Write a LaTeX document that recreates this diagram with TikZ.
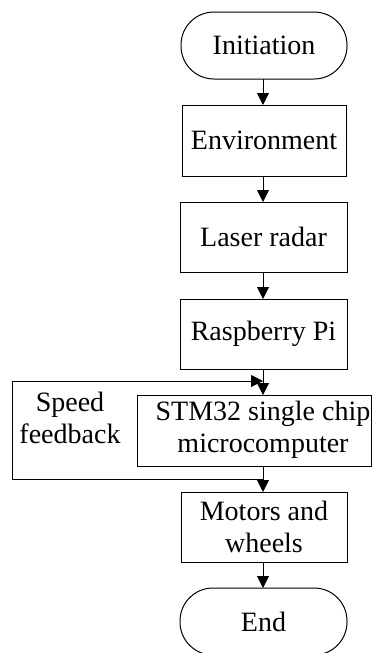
\documentclass[tikz,border=0pt]{standalone}
\usepackage{fontspec}
\setmainfont{Liberation Serif}
\usetikzlibrary{arrows.meta}
\begin{document}
\begin{tikzpicture}[x=1pt,y=-1pt,
  every node/.style={font=\fontsize{28}{32}\selectfont},
  box/.style={draw,line width=1pt,rectangle,inner sep=0pt,align=center},
  term/.style={draw,line width=1pt,rectangle,rounded corners=33pt,inner sep=0pt,minimum width=166pt,minimum height=67pt},
  conn/.style={line width=1pt,-{Triangle[length=12pt,width=12pt]}}]
\useasboundingbox (0,0) rectangle (389,653);
\node[term] (init) at (264,45.5) {Initiation};
\node[box,minimum width=164pt,minimum height=71pt] (env) at (264,140.5) {Environment};
\node[box,minimum width=167pt,minimum height=70pt] (laser) at (263.5,237) {Laser radar};
\node[box,minimum width=167pt,minimum height=70pt] (rpi) at (263.5,334) {Raspberry Pi};
\node[box,minimum width=234pt,minimum height=71pt] (stm) at (254,430.5) {};
\node[align=center] (stmtext) at (263,430) {STM32 single chip\\microcomputer};
\node[box,minimum width=166pt,minimum height=70pt] (motors) at (264,527) {Motors and\\wheels};
\node[term,minimum width=167pt] (end) at (263.5,621.5) {End};
\node[align=center] (speed) at (70,418) {Speed\\feedback};
\coordinate (a1) at (263,79);
\coordinate (a2) at (263,176);
\coordinate (a3) at (263,272);
\coordinate (a4) at (263,369);
\coordinate (a5) at (263,466);
\coordinate (a6) at (263,562);
\coordinate (fb1) at (263,479);
\coordinate (fb2) at (263,381);
\draw[conn] (a1) -- (263,105);
\draw[conn] (a2) -- (263,202);
\draw[conn] (a3) -- (263,299);
\draw[conn] (a4) -- (263,395);
\draw[conn] (a5) -- (263,492);
\draw[conn] (a6) -- (263,588);
\draw[conn] (fb1) -- (12,479) -- (12,381) -- (fb2);
\end{tikzpicture}
\end{document}
